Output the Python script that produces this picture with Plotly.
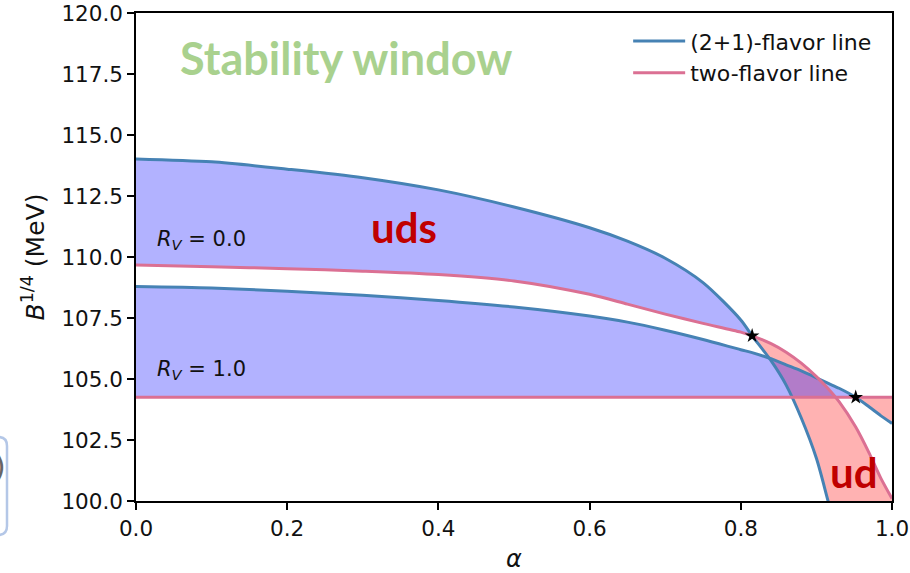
import plotly.graph_objects as go

# ---------------- data ----------------
alpha = [0.0, 0.1, 0.2, 0.3, 0.4, 0.5, 0.6, 0.65, 0.7, 0.75, 0.8, 0.815,
         0.84, 0.86, 0.88, 0.9, 0.915, 0.93, 0.952, 0.97, 0.985, 1.0]

# (2+1)-flavor line, R_V = 0.0
b21_rv0 = [114.02, 113.9, 113.6, 113.25, 112.75, 112.05, 111.2, 110.65, 109.95,
           108.95, 107.42, 106.77, 105.75, 104.75, 103.4, 101.75, 100.05,
           98.3, 95.8, 93.7, 92.0, 90.2]
# two-flavor line, R_V = 0.0
b2f_rv0 = [109.67, 109.6, 109.52, 109.42, 109.28, 109.02, 108.47, 108.07, 107.66,
           107.28, 106.92, 106.77, 106.45, 106.1, 105.65, 105.1, 104.62, 104.07,
           103.03, 101.95, 100.95, 100.1]
# (2+1)-flavor line, R_V = 1.0
b21_rv1 = [108.79, 108.73, 108.6, 108.43, 108.22, 107.95, 107.58, 107.33, 107.0,
           106.62, 106.2, 106.08, 105.83, 105.58, 105.33, 105.05, 104.83, 104.62,
           104.25, 103.85, 103.5, 103.18]
# two-flavor line, R_V = 1.0
b2f_rv1 = [104.25, 104.25, 104.25, 104.25, 104.25, 104.25, 104.25, 104.25, 104.25,
           104.25, 104.25, 104.25, 104.25, 104.25, 104.25, 104.25, 104.25, 104.25,
           104.25, 104.25, 104.25, 104.25]

star_alpha = [0.815, 0.952]
star_B = [106.77, 104.25]

x_ticks = [0.0, 0.2, 0.4, 0.6, 0.8, 1.0]
y_ticks = [100.0, 102.5, 105.0, 107.5, 110.0, 112.5, 115.0, 117.5, 120.0]

# ---------------- styles ----------------
BLUE_LINE = "#4682b4"
PINK_LINE = "#db7093"
BLUE_FILL = "rgba(0,0,255,0.3)"
RED_FILL = "rgba(255,0,0,0.3)"
TICK_FONT = dict(family="DejaVu Sans", size=21.5, color="#111111")
SPLINE = dict(shape="spline", smoothing=0.8)

fig = go.Figure()


def band(lo_idx, hi_idx, upper, lower, color):
    xs = alpha[lo_idx:hi_idx + 1]
    fig.add_trace(go.Scatter(x=xs, y=lower[lo_idx:hi_idx + 1], mode="lines",
                             line=dict(width=0, **SPLINE), hoverinfo="skip",
                             showlegend=False))
    fig.add_trace(go.Scatter(x=xs, y=upper[lo_idx:hi_idx + 1], mode="lines",
                             fill="tonexty", fillcolor=color,
                             line=dict(width=0, **SPLINE), hoverinfo="skip",
                             showlegend=False))


i1 = alpha.index(star_alpha[0])
i2 = alpha.index(star_alpha[1])
last = len(alpha) - 1

# red (two-flavor above 2+1) regions first, blue on top
band(i1, last, b2f_rv0, b21_rv0, RED_FILL)
band(i2, last, b2f_rv1, b21_rv1, RED_FILL)
band(0, i1, b21_rv0, b2f_rv0, BLUE_FILL)
band(0, i2, b21_rv1, b2f_rv1, BLUE_FILL)

# lines
fig.add_trace(go.Scatter(x=alpha, y=b21_rv0, mode="lines", name="(2+1)-flavor line",
                         line=dict(color=BLUE_LINE, width=3, **SPLINE), legendgroup="a",
                         showlegend=True))
fig.add_trace(go.Scatter(x=alpha, y=b21_rv1, mode="lines", name="(2+1)-flavor line",
                         line=dict(color=BLUE_LINE, width=3, **SPLINE), legendgroup="a",
                         showlegend=False))
fig.add_trace(go.Scatter(x=alpha, y=b2f_rv0, mode="lines", name="two-flavor line",
                         line=dict(color=PINK_LINE, width=3, **SPLINE), legendgroup="b",
                         showlegend=True))
fig.add_trace(go.Scatter(x=alpha, y=b2f_rv1, mode="lines", name="two-flavor line",
                         line=dict(color=PINK_LINE, width=3), legendgroup="b",
                         showlegend=False))

# stars
fig.add_trace(go.Scatter(x=star_alpha, y=star_B, mode="markers",
                         marker=dict(symbol="star", size=11, color="black"),
                         showlegend=False, hoverinfo="skip"))

# annotations
fig.add_annotation(x=0.278, y=118.15, text="<b>Stability window</b>", showarrow=False,
                   font=dict(family="Lato", size=45, color="#a9d18e"))
fig.add_annotation(x=0.3545, y=111.25, text="<b>uds</b>", showarrow=False,
                   font=dict(family="Lato", size=42, color="#c00000"))
fig.add_annotation(x=0.95, y=101.2, text="<b>ud</b>", showarrow=False,
                   font=dict(family="Lato", size=42, color="#c00000"))
fig.add_annotation(x=0.025, y=110.7, xanchor="left", text="<i>R</i><sub><i>V</i></sub> = 0.0",
                   showarrow=False, font=dict(family="DejaVu Sans", size=21, color="#111111"))
fig.add_annotation(x=0.025, y=105.35, xanchor="left", text="<i>R</i><sub><i>V</i></sub> = 1.0",
                   showarrow=False, font=dict(family="DejaVu Sans", size=21, color="#111111"))

# cropped slide artifact at the left edge
px = lambda p: (p - 136) / 756.0
py = lambda p: (501 - p) / 488.0
r_x, r_y = 9 / 756.0, 9 / 488.0
x0, x1, y0, y1 = px(-40), px(7), py(535), py(437)
fig.add_shape(type="path", xref="paper", yref="paper",
              path=(f"M{x0},{y1} L{x1 - r_x},{y1} Q{x1},{y1} {x1},{y1 - r_y} "
                    f"L{x1},{y0 + r_y} Q{x1},{y0} {x1 - r_x},{y0} L{x0},{y0}"),
              line=dict(color="#b4c7e7", width=2.5))
fig.add_annotation(xref="paper", yref="paper", x=px(8), y=py(486), xanchor="right",
                   text=")", showarrow=False,
                   font=dict(family="DejaVu Sans", size=30, color="#666666"))

fig.update_layout(
    width=910, height=573,
    margin=dict(l=136, r=18, t=13, b=72, autoexpand=False),
    paper_bgcolor="white", plot_bgcolor="white",
    legend=dict(x=0.651, y=0.985, xanchor="left", yanchor="top",
                font=dict(family="DejaVu Sans", size=22, color="#111111"),
                bgcolor="rgba(0,0,0,0)", traceorder="grouped", tracegroupgap=0,
                itemwidth=52),
    showlegend=True,
)
fig.update_xaxes(range=[0, 1], tickvals=x_ticks, tickformat=".1f", automargin=False,
                 showgrid=False, zeroline=False, showline=True, linecolor="black",
                 linewidth=1.5, mirror=True, ticks="outside", ticklen=7, tickwidth=1.5,
                 tickcolor="black", tickfont=TICK_FONT,
                 title=dict(text="<i>α</i>", font=dict(family="DejaVu Sans", size=24,
                                                       color="#111111"), standoff=12))
fig.update_yaxes(range=[100, 120], tickvals=y_ticks, tickformat=".1f", automargin=False,
                 showgrid=False, zeroline=False, showline=True, linecolor="black",
                 linewidth=1.5, mirror=True, ticks="outside", ticklen=7, tickwidth=1.5,
                 tickcolor="black", tickfont=TICK_FONT,
                 title=dict(text="<i>B</i><sup>1/4</sup> (MeV)",
                            font=dict(family="DejaVu Sans", size=25, color="#111111"),
                            standoff=10))

fig.write_html("out.html")
